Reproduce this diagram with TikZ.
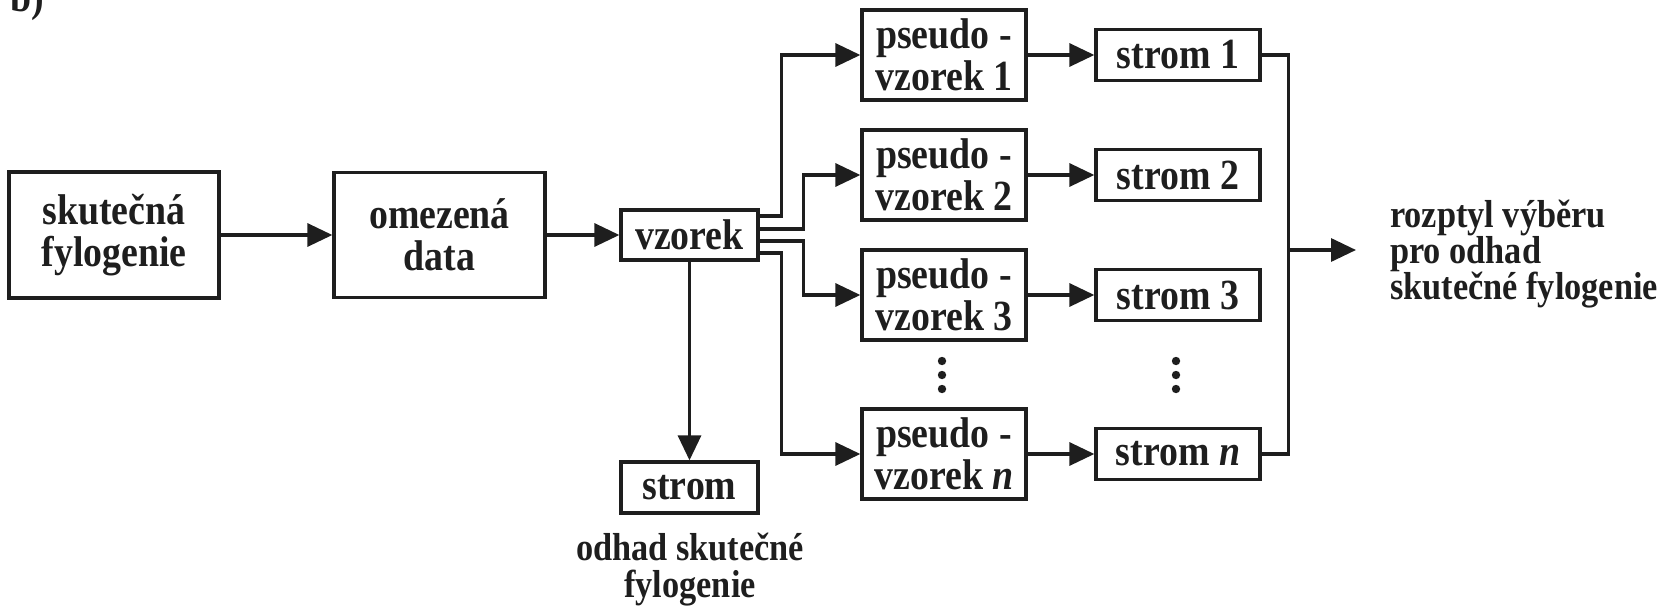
\documentclass[tikz,border=0pt]{standalone}
\usepackage{fontspec}
\setmainfont{Liberation Serif}[FakeStretch=0.88]
\usetikzlibrary{arrows.meta,calc}
\definecolor{ink}{RGB}{30,30,30}
\newcommand\bxfont{\fontsize{43}{42}\selectfont\bfseries}
\newcommand\lbfont{\fontsize{39}{36}\selectfont\bfseries}
\begin{document}
\begin{tikzpicture}[x=1pt,y=-1pt,
  box/.style={draw=ink, line width=3.3pt, inner sep=0pt, align=center, font=\bxfont, text=ink},
  pbox/.style={box, minimum width=164pt, minimum height=90pt},
  sbox/.style={box, minimum width=164pt, minimum height=51pt},
  arr/.style={draw=ink, line width=3.3pt, -{Triangle[length=25pt,width=23pt]}},
  con/.style={draw=ink, line width=3.3pt},
  lbl/.style={inner sep=0pt, font=\lbfont, text=ink}]
\useasboundingbox (0,0) rectangle (1667,608);
% label b)
\node[anchor=base west, inner sep=0pt, font=\bxfont, text=ink] (blab) at (10,11) {b)};
% main chain
\node[box, minimum width=210pt, minimum height=126pt] (skut) at (114,235) {skutečná\\fylogenie};
\node[box, minimum width=211pt, minimum height=125pt] (omez) at (439.5,235) {omezená\\data};
\node[box, minimum width=137pt, minimum height=50pt] (vz) at (689.5,235) {vzorek};
\node[box, minimum width=137pt, minimum height=51pt] (st) at (689.5,487.5) {strom};
\node[lbl, anchor=base] (odh) at (690,560) {\vtop{\baselineskip=37pt\halign{\hfil#\hfil\cr odhad skutečné\cr fylogenie\cr}}};
% pseudo samples
\node[pbox] (p1) at (944,55) {pseudo -\\vzorek 1};
\node[pbox] (p2) at (944,175) {pseudo -\\vzorek 2};
\node[pbox] (p3) at (944,295) {pseudo -\\vzorek 3};
\node[pbox] (pn) at (944,454) {pseudo -\\vzorek \textit{n}};
% trees
\node[sbox] (s1) at (1178,55) {strom 1};
\node[sbox] (s2) at (1178,175) {strom 2};
\node[sbox] (s3) at (1178,295) {strom 3};
\node[sbox] (sn) at (1178,454) {strom \textit{n}};
% dots
\foreach \yy in {361,375,389}{
  \fill[ink] (942,\yy) circle (4.2pt);
  \fill[ink] (1176,\yy) circle (4.2pt);
}
% right label
\node[lbl, anchor=base west] (res) at (1390,227) {\vtop{\baselineskip=36pt\hbox{rozptyl výběru}\hbox{pro odhad}\hbox{skutečné fylogenie}}};
% connectors
\draw[arr] (skut.east) -- (omez.west);
\draw[arr] (omez.east) -- (vz.west);
\draw[arr] (vz.south) -- (st.north);
\draw[arr] ($(vz.east)+(0,-19)$) -- ++(22,0) |- (p1.west);
\draw[arr] ($(vz.east)+(0,-6)$) -- ++(44,0) |- (p2.west);
\draw[arr] ($(vz.east)+(0,6)$) -- ++(44,0) |- (p3.west);
\draw[arr] ($(vz.east)+(0,18)$) -- ++(22,0) |- (pn.west);
\draw[arr] (p1.east) -- (s1.west);
\draw[arr] (p2.east) -- (s2.west);
\draw[arr] (p3.east) -- (s3.west);
\draw[arr] (pn.east) -- (sn.west);
\draw[con] (s1.east) -- ++(27,0) |- (sn.east);
\coordinate (cj) at (1287,250);
\coordinate (ctip) at (1356,250);
\draw[arr] (cj) -- (ctip);
\end{tikzpicture}
\end{document}
